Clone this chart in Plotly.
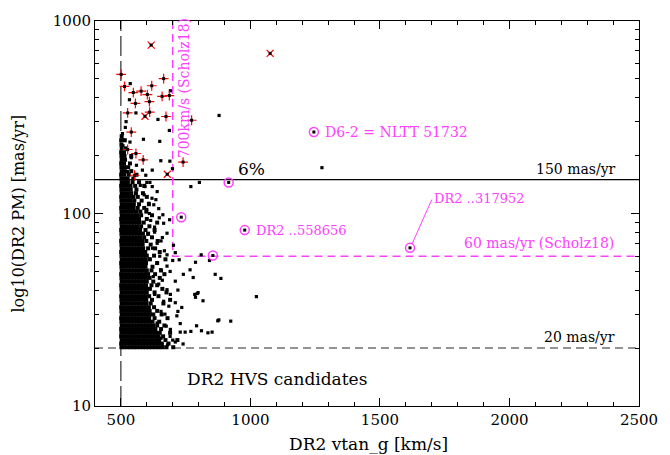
import math
import plotly.graph_objects as go

# ---------------- data ----------------
x_ticks = [500, 1000, 1500, 2000, 2500]
y_ticks = [10, 100, 1000]

# dense cloud of DR2 candidates: rows of PM with vtan values in each row
cloud_pm = [20.2, 21.1, 22.0, 23.0, 24.0, 25.1, 26.2, 27.4, 28.6, 29.9, 31.2, 32.6, 34.1,
            35.6, 37.2, 38.9, 40.6, 42.4, 44.3, 46.3, 48.4, 50.6, 52.9, 55.3, 57.8, 60.4,
            63.1, 65.9, 68.9, 72.0, 75.2, 78.6, 82.1, 85.8, 89.7, 93.7, 97.9, 102.3, 106.9,
            111.7, 116.7, 122.0, 127.5, 133.2, 139.2, 145.5, 152, 159, 166, 174, 182, 190,
            199, 208, 218, 228, 240, 252]
cloud_vtan = [
    [502, 513, 525, 537, 549, 560, 573, 585, 597, 609, 621, 634, 647, 661, 676, 702],
    [501, 512, 524, 536, 548, 561, 572, 584, 596, 608, 620, 633, 645, 656, 684],
    [503, 515, 527, 538, 550, 562, 574, 586, 598, 611, 623, 636, 648, 672, 718],
    [501, 513, 525, 537, 549, 561, 573, 586, 598, 610, 622, 634, 645, 663],
    [502, 514, 526, 538, 550, 562, 575, 587, 599, 611, 624, 636, 650, 690],
    [501, 512, 524, 537, 549, 561, 573, 585, 597, 609, 621, 633, 655],
    [503, 515, 527, 539, 551, 563, 575, 587, 599, 612, 624, 640, 668],
    [502, 514, 526, 538, 550, 562, 574, 586, 598, 610, 622, 648],
    [501, 513, 525, 537, 549, 561, 573, 585, 597, 609, 630, 680],
    [503, 515, 527, 539, 551, 563, 575, 587, 599, 612, 625, 657],
    [502, 514, 526, 538, 550, 562, 574, 586, 598, 611, 640],
    [501, 513, 525, 537, 549, 561, 573, 585, 597, 608, 628],
    [503, 515, 527, 539, 551, 563, 575, 587, 599, 615, 664],
    [502, 514, 526, 538, 550, 562, 574, 586, 598, 620, 690],
    [501, 513, 525, 537, 549, 561, 573, 585, 596, 609, 645],
    [503, 515, 527, 539, 551, 563, 575, 587, 600, 630, 676],
    [502, 514, 526, 538, 550, 562, 574, 586, 598, 612, 660],
    [501, 513, 525, 537, 549, 561, 573, 585, 597, 618, 640],
    [503, 515, 527, 539, 551, 563, 575, 587, 600, 625],
    [502, 514, 526, 538, 550, 562, 574, 586, 598, 611, 650],
    [501, 513, 525, 537, 549, 561, 573, 585, 597, 605, 632, 668],
    [503, 515, 527, 539, 551, 563, 575, 587, 600, 618, 655],
    [502, 514, 526, 538, 550, 562, 574, 586, 595, 622],
    [501, 513, 525, 537, 549, 561, 573, 585, 597, 640],
    [503, 515, 527, 539, 551, 563, 575, 587, 596, 612, 672],
    [502, 514, 526, 538, 550, 562, 574, 586, 600, 628],
    [501, 513, 525, 537, 549, 561, 573, 585, 594, 650],
    [503, 515, 527, 539, 551, 563, 575, 586, 605, 632],
    [502, 514, 526, 538, 550, 562, 574, 584, 615],
    [501, 513, 525, 537, 549, 561, 573, 582, 598, 642],
    [503, 515, 527, 539, 551, 563, 575, 590, 620],
    [502, 514, 526, 538, 550, 562, 572, 585, 605],
    [501, 513, 525, 537, 549, 561, 574, 595, 630],
    [503, 515, 527, 539, 551, 563, 578, 610],
    [502, 514, 526, 538, 550, 562, 572, 588, 640],
    [501, 513, 525, 537, 549, 561, 570, 600],
    [503, 515, 527, 539, 551, 563, 578, 620],
    [502, 514, 526, 538, 550, 560, 575, 598],
    [501, 513, 525, 537, 549, 565, 590],
    [503, 515, 527, 539, 550, 570, 608],
    [502, 514, 526, 538, 552, 580],
    [501, 513, 525, 537, 548, 565, 600],
    [503, 515, 527, 540, 558, 585],
    [502, 514, 526, 538, 560],
    [501, 513, 525, 537, 555, 590],
    [503, 515, 527, 545, 570],
    [502, 514, 526, 548],
    [501, 513, 530, 560],
    [503, 515, 540],
    [502, 514, 528],
    [501, 512, 535],
    [503, 516],
    [502, 514, 540],
    [501, 512],
    [503, 520],
    [502],
    [501, 515],
    [503],
]

# sparse individual candidates
sparse_vtan = [536, 533, 558, 643, 879, 687, 587, 650, 535, 511, 691, 654, 689, 699, 621, 596,
               583, 1276, 517, 506, 520, 508, 525, 540, 560, 525,
               770, 803, 688, 665, 646, 662, 678, 703, 710, 725, 767, 788, 810, 842, 678, 653,
               627, 608, 593, 621, 678, 864, 741, 779, 710, 798, 788, 817, 874, 852, 836, 792,
               770, 811, 691, 729, 729, 748, 735, 710, 716, 691, 678, 646, 665, 886, 1023, 878,
               924, 785, 795, 640, 620, 600, 660, 640, 700, 690, 720, 670, 700, 660, 740, 720,
               650, 630, 610,
               612, 575, 590, 635, 600, 648, 615, 630, 605, 655, 622, 668, 610, 640, 625, 660,
               630, 685, 655, 640, 675, 690, 655, 710, 680]
sparse_pm = [473, 390, 333, 308, 323, 270, 243, 237, 235, 241, 434, 188, 187, 171, 168, 158,
             168, 173, 280, 260, 300, 225, 215, 195, 178, 165,
             138, 145, 92.8, 89, 106, 98.5, 79, 68.4, 62.6, 57.5, 51, 55.8, 61, 57, 61, 51,
             111, 113, 138, 138, 53.3, 48.3, 48.3, 46.5, 44.5, 38.8, 36.7, 35.2, 27.7, 24.2, 24, 26.1,
             24.4, 24.6, 25, 26.8, 24.2, 24.2, 32.5, 34.4, 29.4, 38, 40.2, 43, 35, 46, 37, 28,
             27.6, 38, 38.4, 130, 120, 145, 75, 70, 57, 50, 40, 30, 22, 21, 21, 31,
             60, 85, 100,
             145, 140, 125, 118, 105, 95, 92, 80, 78, 72, 66, 64, 58, 55, 47, 45,
             38, 33, 31, 27, 26, 23, 22.5, 21.5, 20.8]

# red '+' flagged candidates
plus_vtan = [501, 514, 548, 578, 619, 665, 602, 556, 610, 659, 687, 526, 611, 674, 773, 540,
             526, 558, 586, 740, 553]
plus_pm = [528, 457, 425, 432, 461, 502, 415, 373, 381, 406, 410, 333, 336, 319, 305, 265,
           215, 205, 190, 185, 158]

# red 'x' flagged candidates
cross_vtan = [617, 1076, 593, 679]
cross_pm = [750, 679, 320, 160]

# magenta circled objects
circ_vtan = [1245, 916, 733, 978, 855, 1616]
circ_pm = [265, 145, 95.7, 82, 60.5, 66.3]

# leader line for DR2 ..317952
leader_vtan = [1624, 1700]
leader_pm = [69.5, 118]

# cuts
vtan_min = 500
vtan_scholz = 700
pm_hi = 150
pm_lo = 20
pm_scholz = 60
x_range = [400, 2500]
y_range = [10, 1000]

MAG = "#ff40ff"
FONT = "DejaVu Serif"

# ---------------- figure ----------------
fig = go.Figure()

# reference lines
fig.add_trace(go.Scatter(x=[vtan_min, vtan_min], y=y_range, mode="lines",
                         line=dict(color="black", width=1, dash="20px,5px")))
fig.add_trace(go.Scatter(x=x_range, y=[pm_hi, pm_hi], mode="lines",
                         line=dict(color="black", width=1.2)))
fig.add_trace(go.Scatter(x=x_range, y=[pm_lo, pm_lo], mode="lines",
                         line=dict(color="#707070", width=1.5, dash="8px,5px")))
fig.add_trace(go.Scatter(x=[vtan_scholz, vtan_scholz, x_range[1]],
                         y=[y_range[1], pm_scholz, pm_scholz], mode="lines",
                         line=dict(color=MAG, width=1.5, dash="8px,5px")))
fig.add_trace(go.Scatter(x=leader_vtan, y=leader_pm, mode="lines",
                         line=dict(color=MAG, width=1)))

# cloud
cx, cy = [], []
for pm, row in zip(cloud_pm, cloud_vtan):
    for v in row:
        cx.append(v)
        cy.append(pm)
fig.add_trace(go.Scatter(x=cx, y=cy, mode="markers",
                         marker=dict(symbol="square", size=4, color="black", line=dict(width=0))))
fig.add_trace(go.Scatter(x=sparse_vtan, y=sparse_pm, mode="markers",
                         marker=dict(symbol="square", size=3.2, color="black", line=dict(width=0))))

# flagged markers
fig.add_trace(go.Scatter(x=plus_vtan, y=plus_pm, mode="markers",
                         marker=dict(symbol="cross-thin", size=7, color="red",
                                     line=dict(color="red", width=1.2))))
fig.add_trace(go.Scatter(x=cross_vtan, y=cross_pm, mode="markers",
                         marker=dict(symbol="x-thin", size=7, color="red",
                                     line=dict(color="red", width=1.2))))
fig.add_trace(go.Scatter(x=circ_vtan, y=circ_pm, mode="markers",
                         marker=dict(symbol="circle-open", size=9, color=MAG,
                                     line=dict(color=MAG, width=1.5))))
fig.add_trace(go.Scatter(x=plus_vtan + cross_vtan + circ_vtan, y=plus_pm + cross_pm + circ_pm,
                         mode="markers",
                         marker=dict(symbol="square", size=3, color="black", line=dict(width=0))))

lg = math.log10
ann = [
    dict(x=1280, y=lg(265), text="D6-2 = NLTT 51732", color=MAG, xa="left", size=14),
    dict(x=1012, y=lg(82), text="DR2 ..558656", color=MAG, xa="left", size=13),
    dict(x=1700, y=lg(119), text="DR2 ..317952", color=MAG, xa="left", size=13),
    dict(x=2410, y=lg(70.5), text="60 mas/yr (Scholz18)", color=MAG, xa="right", size=14),
    dict(x=2420, y=lg(171), text="150 mas/yr", color="black", xa="right", size=14),
    dict(x=2415, y=lg(22.9), text="20 mas/yr", color="black", xa="right", size=14),
    dict(x=1003, y=lg(171), text="6%", color="black", xa="center", size=17),
    dict(x=748, y=lg(13.8), text="DR2 HVS candidates", color="black", xa="left", size=17),
]
for a in ann:
    fig.add_annotation(x=a["x"], y=a["y"], xref="x", yref="y", text=a["text"],
                       showarrow=False, xanchor=a["xa"], yanchor="middle",
                       font=dict(family=FONT, size=a["size"], color=a["color"]))

fig.add_annotation(x=742, y=lg(445), xref="x", yref="y", text="700km/s (Scholz18)",
                   textangle=-90, showarrow=False, xanchor="center", yanchor="middle",
                   font=dict(family=FONT, size=14, color=MAG))

# axis titles
fig.add_annotation(x=0.502, y=0, xref="paper", yref="paper", yshift=-38,
                   text="DR2 vtan_g [km/s]", showarrow=False, xanchor="center", yanchor="middle",
                   font=dict(family=FONT, size=17, color="black"))
fig.add_annotation(x=0, y=0.5, xref="paper", yref="paper", xshift=-77,
                   text="log10(DR2 PM) [mas/yr]", textangle=-90, showarrow=False,
                   xanchor="center", yanchor="middle",
                   font=dict(family=FONT, size=16, color="black"))

fig.update_layout(
    width=670, height=455,
    margin=dict(l=95, r=20, t=18, b=49),
    plot_bgcolor="rgba(0,0,0,0)", paper_bgcolor="white",
    showlegend=False,
)
tick_font = dict(family=FONT, size=15, color="black")
fig.update_xaxes(range=x_range, tickmode="linear", tick0=x_ticks[0],
                 dtick=x_ticks[1] - x_ticks[0], ticks="inside", ticklen=8, tickcolor="black",
                 showline=True, linecolor="black", mirror="ticks",
                 showgrid=False, zeroline=False, tickfont=tick_font,
                 minor=dict(ticks="inside", ticklen=4, tickcolor="black", dtick=100))
fig.update_yaxes(type="log", range=[lg(y_range[0]), lg(y_range[1])], tickmode="linear",
                 tick0=0, dtick=1, ticks="inside", ticklen=8, tickcolor="black",
                 showline=True, linecolor="black", mirror="ticks", showgrid=False,
                 zeroline=False, tickfont=tick_font,
                 minor=dict(ticks="inside", ticklen=4, tickcolor="black", dtick="D1"))

fig.write_html("out.html")
